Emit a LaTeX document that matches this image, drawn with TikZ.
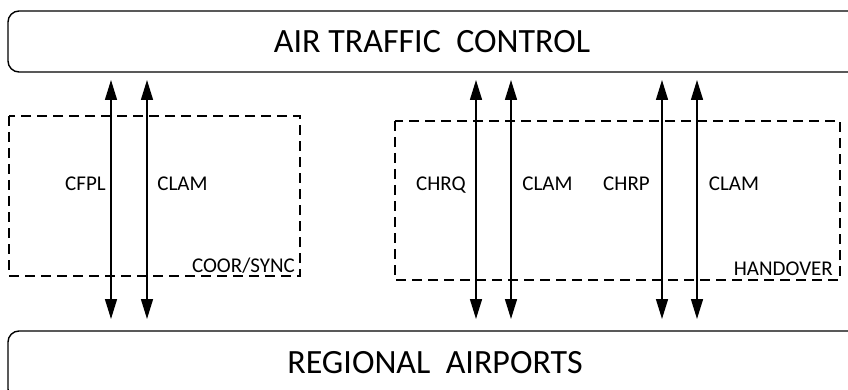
\documentclass[tikz,border=0pt]{standalone}
\usepackage{fontspec}
\setmainfont{Carlito}
\usetikzlibrary{arrows.meta}
\begin{document}
\begin{tikzpicture}[x=1pt,y=-1pt,
  bigbox/.style={draw,line width=1.4pt,rounded corners=11pt},
  groupbox/.style={draw,line width=1.2pt,dash pattern=on 10pt off 6pt},
  msg/.style={line width=1.5pt,{Triangle[length=20pt,width=12pt]}-{Triangle[length=20pt,width=12pt]}},
  lbl/.style={anchor=base,inner sep=0pt,font=\fontsize{21}{24}\selectfont},
  title/.style={anchor=base,inner sep=0pt,font=\fontsize{34}{40}\selectfont}]
\useasboundingbox (0,0) rectangle (848,390);
% big boxes
\draw[bigbox] (8,11) rectangle (870,72);
\draw[bigbox] (8,331) rectangle (870,400);
\node[title] (atc) at (432,53) {AIR TRAFFIC\ \ CONTROL};
\node[title] (ra) at (435,373) {REGIONAL\ \ AIRPORTS};
% group boxes
\draw[groupbox] (9,116) rectangle (300,276);
\draw[groupbox] (395,121) rectangle (840,280);
\node[lbl,anchor=base east] (coor) at (295,272) {COOR/SYNC};
\node[lbl,anchor=base east] (hand) at (833,275) {HANDOVER};
% arrow endpoints
\foreach \i/\x in {1/111,2/147,3/476,4/511,5/662,6/697}{
  \coordinate (t\i) at (\x,80);
  \coordinate (b\i) at (\x,319);
}
\foreach \i in {1,...,6}{\draw[msg] (b\i) -- (t\i);}
% labels
\node[lbl] (cfpl) at (85.5,191) {CFPL};
\node[lbl] (clam1) at (182.5,191) {CLAM};
\node[lbl] (chrq) at (441,191) {CHRQ};
\node[lbl] (clam2) at (547.5,191) {CLAM};
\node[lbl] (chrp) at (626.5,191) {CHRP};
\node[lbl] (clam3) at (734,191) {CLAM};
\end{tikzpicture}
\end{document}
